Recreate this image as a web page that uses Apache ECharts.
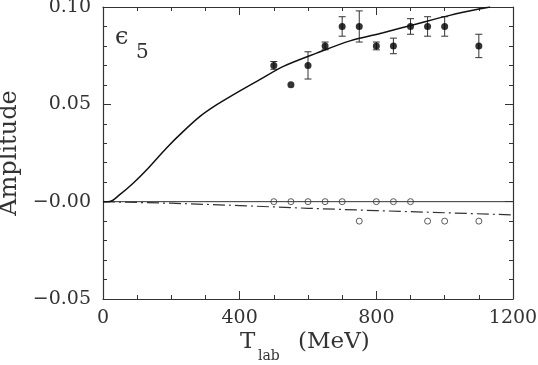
<!DOCTYPE html>
<html>
<head>
<meta charset="utf-8">
<script src="https://cdn.jsdelivr.net/npm/echarts@6/dist/echarts.min.js"></script>
<style>
  html, body { margin: 0; padding: 0; background: #fff; }
  #main { width: 538px; height: 365px; }
</style>
</head>
<body>
<div id="main"></div>
<script>
// filled points (T_lab, amplitude, error)
var fill_x = [500, 550, 600, 650, 700, 750, 800, 850, 900, 950, 1000, 1100];
var fill_y = [0.07, 0.06, 0.07, 0.08, 0.09, 0.09, 0.08, 0.08, 0.09, 0.09, 0.09, 0.08];
var fill_err = [0.002, 0, 0.007, 0.002, 0.005, 0.008, 0.002, 0.004, 0.004, 0.005, 0.005, 0.006];

// open points
var open_x = [500, 550, 600, 650, 700, 750, 800, 850, 900, 950, 1000, 1100];
var open_y = [0, 0, 0, 0, 0, -0.01, 0, 0, 0, -0.01, -0.01, -0.01];

// solid curve
var solid_x = [0, 20, 49, 89, 128, 186, 235, 284, 333, 382, 455, 528, 625, 723, 820, 918, 1015, 1113, 1133];
var solid_y = [0, 0.0001, 0.0036, 0.0096, 0.0164, 0.0276, 0.0361, 0.0438, 0.0498, 0.055, 0.0623, 0.0695, 0.0763, 0.0826, 0.0868, 0.0913, 0.0957, 0.0994, 0.1];

// dash-dot curve
var dash_x = [0, 200, 400, 600, 800, 1000, 1200];
var dash_y = [0, -0.0008, -0.002, -0.0034, -0.0046, -0.0057, -0.0068];

var x_ticks = [0, 400, 800, 1200];
var y_ticks = [-0.05, 0, 0.05, 0.10];

var font = 'DejaVu Serif';
var ink = '#333';

function zip(a, b, c) {
  return a.map(function (v, i) { return c ? [v, b[i], c[i]] : [v, b[i]]; });
}

var chart = echarts.init(document.getElementById('main'));

function axisBase(pos, isX, showLabel) {
  var ax = {
    type: 'value',
    position: pos,
    min: isX ? x_ticks[0] : y_ticks[0],
    max: isX ? x_ticks[x_ticks.length - 1] : y_ticks[y_ticks.length - 1],
    interval: isX ? 400 : 0.05,
    axisLine: { show: true, onZero: false, lineStyle: { color: ink, width: 1.2 } },
    axisTick: { show: true, inside: true, length: 8, lineStyle: { color: ink } },
    minorTick: { show: true, splitNumber: isX ? 4 : 5, length: 4, lineStyle: { color: ink } },
    splitLine: { show: false },
    axisLabel: { show: showLabel }
  };
  if (showLabel && isX) {
    ax.axisLabel = {
      show: true, margin: 10, fontFamily: font, fontSize: 19, color: ink,
      formatter: function (v) { return String(v); }
    };
  }
  if (showLabel && !isX) {
    ax.axisLabel = {
      show: true, margin: 12, fontFamily: font, fontSize: 19, color: ink,
      formatter: function (v) {
        if (Math.abs(v) < 1e-9) return '\u22120.00';
        return (v < 0 ? '\u2212' : '') + Math.abs(v).toFixed(2);
      }
    };
    ax.name = 'Amplitude';
    ax.nameLocation = 'middle';
    ax.nameGap = 80;
    ax.nameRotate = 90;
    ax.nameTextStyle = { fontFamily: font, fontSize: 24, color: ink };
  }
  return ax;
}

chart.setOption({
  animation: false,
  grid: { left: 103, right: 25, top: 7, bottom: 66, outerBoundsMode: 'none' },
  xAxis: [axisBase('bottom', true, true), axisBase('top', true, false)],
  yAxis: [axisBase('left', false, true), axisBase('right', false, false)],
  graphic: [
    { type: 'text', left: 115, top: 26, style: { text: '\u03f5', font: '24px "DejaVu Serif"', fill: ink } },
    { type: 'text', left: 136, top: 43, style: { text: '5', font: '20px "DejaVu Serif"', fill: ink } },
    { type: 'text', left: 240, top: 331, style: { text: 'T', font: '23px "DejaVu Serif"', fill: ink } },
    { type: 'text', left: 258, top: 349, style: { text: 'lab', font: '14px "DejaVu Serif"', fill: ink } },
    { type: 'text', left: 298, top: 331, style: { text: '(MeV)', font: '23px "DejaVu Serif"', fill: ink } }
  ],
  series: [
    {
      type: 'line', data: [[0, 0], [1200, 0]], symbol: 'none', silent: true,
      lineStyle: { color: ink, width: 1 }
    },
    {
      type: 'line', data: zip(dash_x, dash_y), symbol: 'none', silent: true,
      lineStyle: { color: ink, width: 1.2, type: [12, 4, 2, 4] }
    },
    {
      type: 'line', data: zip(solid_x, solid_y), symbol: 'none', smooth: 0.3, silent: true,
      lineStyle: { color: '#111', width: 1.5 }
    },
    {
      type: 'custom',
      data: zip(fill_x, fill_y, fill_err),
      renderItem: function (params, api) {
        var x = api.value(0), y = api.value(1), e = api.value(2);
        if (!e) return { type: 'group', children: [] };
        var lo = api.coord([x, y - e]);
        var hi = api.coord([x, y + e]);
        var st = { stroke: ink, lineWidth: 1 };
        var w = 3.5;
        return {
          type: 'group',
          children: [
            { type: 'line', shape: { x1: lo[0], y1: lo[1], x2: hi[0], y2: hi[1] }, style: st },
            { type: 'line', shape: { x1: lo[0] - w, y1: lo[1], x2: lo[0] + w, y2: lo[1] }, style: st },
            { type: 'line', shape: { x1: hi[0] - w, y1: hi[1], x2: hi[0] + w, y2: hi[1] }, style: st }
          ]
        };
      }
    },
    {
      type: 'scatter', data: zip(fill_x, fill_y), symbol: 'circle', symbolSize: 7,
      itemStyle: { color: '#000' }
    },
    {
      type: 'scatter', data: zip(open_x, open_y), symbol: 'circle', symbolSize: 6,
      itemStyle: { color: '#fff', borderColor: ink, borderWidth: 1 }
    }
  ]
});
</script>
</body>
</html>
